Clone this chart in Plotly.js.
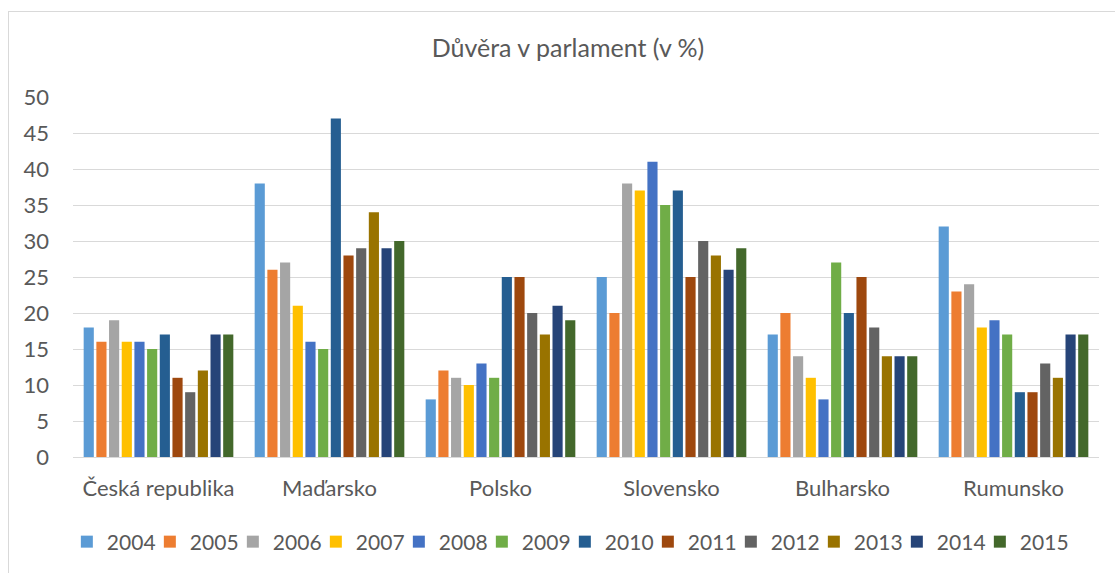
<!DOCTYPE html>
<html>
<head>
<meta charset="utf-8">
<script src="https://cdn.plot.ly/plotly-3.0.1.min.js"></script>
<style>
  html, body { margin: 0; padding: 0; background: #fff; }
  #wrap { position: relative; width: 1115px; height: 573px; overflow: hidden; }
  #chart { position: absolute; left: 0; top: 0; width: 1115px; height: 573px; }
  #frame { position: absolute; left: 8px; top: 11px; width: 1200px; height: 700px;
           border-top: 1px solid #D9D9D9; border-left: 1px solid #D9D9D9; pointer-events: none; }
</style>
</head>
<body>
<div id="wrap">
  <div id="chart"></div>
  <div id="frame"></div>
</div>
<script>
const categories = ["Česká republika", "Maďarsko", "Polsko", "Slovensko", "Bulharsko", "Rumunsko"];
const years = ["2004", "2005", "2006", "2007", "2008", "2009", "2010", "2011", "2012", "2013", "2014", "2015"];
const colors = ["#5B9BD5", "#ED7D31", "#A5A5A5", "#FFC000", "#4472C4", "#70AD47",
                "#255E91", "#9E480E", "#636363", "#997300", "#264478", "#43682B"];

// values per year, in category order
const v2004 = [18, 38, 8, 25, 17, 32];
const v2005 = [16, 26, 12, 20, 20, 23];
const v2006 = [19, 27, 11, 38, 14, 24];
const v2007 = [16, 21, 10, 37, 11, 18];
const v2008 = [16, 16, 13, 41, 8, 19];
const v2009 = [15, 15, 11, 35, 27, 17];
const v2010 = [17, 47, 25, 37, 20, 9];
const v2011 = [11, 28, 25, 25, 25, 9];
const v2012 = [9, 29, 20, 30, 18, 13];
const v2013 = [12, 34, 17, 28, 14, 11];
const v2014 = [17, 29, 21, 26, 14, 17];
const v2015 = [17, 30, 19, 29, 14, 17];

const series = [v2004, v2005, v2006, v2007, v2008, v2009, v2010, v2011, v2012, v2013, v2014, v2015];
const FONT = "Lato, 'Open Sans', sans-serif";
const TXT = "#595959";

const traces = series.map((vals, i) => ({
  type: "bar",
  name: years[i],
  x: categories,
  y: vals,
  marker: { color: colors[i] },
  hoverinfo: "x+y+name"
}));

const layout = {
  width: 1115,
  height: 573,
  margin: { l: 73, r: 16, t: 97, b: 116, autoexpand: false },
  paper_bgcolor: "#ffffff",
  plot_bgcolor: "#ffffff",
  font: { family: FONT, color: TXT, size: 21 },
  title: {
    text: "Důvěra v parlament (v %)",
    font: { family: FONT, color: TXT, size: 25 },
    x: 568 / 1115, xanchor: "center",
    y: 1 - 48 / 573, yref: "container", yanchor: "middle"
  },
  barmode: "group",
  bargap: 0.11,
  bargroupgap: 0.2,
  xaxis: {
    type: "category",
    showgrid: false,
    showline: true,
    linecolor: "#D9D9D9",
    linewidth: 1,
    ticks: "",
    tickfont: { family: FONT, color: TXT, size: 22 },
    ticklabelstandoff: 12,
    automargin: false
  },
  yaxis: {
    range: [0, 50],
    dtick: 5,
    tick0: 0,
    showgrid: true,
    gridcolor: "#D9D9D9",
    gridwidth: 1,
    zeroline: false,
    showline: false,
    ticks: "",
    tickfont: { family: FONT, color: TXT, size: 22 },
    ticklabelstandoff: 23,
    automargin: false
  },
  showlegend: true,
  legend: {
    orientation: "h",
    x: -0.006, xanchor: "left",
    y: -(542 - 457) / 360, yanchor: "middle",
    font: { family: FONT, color: TXT, size: 21 },
    traceorder: "normal",
    itemwidth: 30,
    entrywidth: 38,
    entrywidthmode: "pixels"
  }
};

Plotly.newPlot("chart", traces, layout, { displayModeBar: false, staticPlot: true }).then(gd => {
  // let the last legend label overflow the legend box instead of being clipped
  gd.querySelectorAll(".legend [clip-path]").forEach(el => el.removeAttribute("clip-path"));
});
</script>
</body>
</html>
